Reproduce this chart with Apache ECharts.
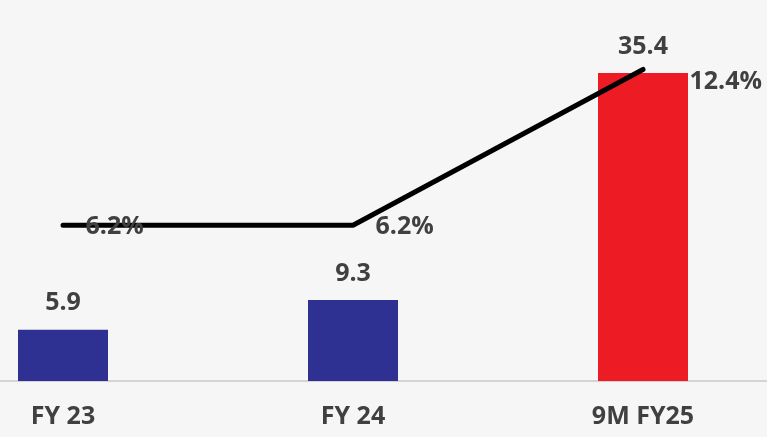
<!DOCTYPE html>
<html>
<head>
<meta charset="utf-8">
<script src="https://cdn.jsdelivr.net/npm/echarts@6/dist/echarts.min.js"></script>
<style>
  html, body { margin: 0; padding: 0; background: #f6f6f6; }
  #chart { width: 767px; height: 437px; }
</style>
</head>
<body>
<div id="chart"></div>
<script>
// Periods shown on the category axis
const categories = ['FY 23', 'FY 24', '9M FY25'];
// Bar values (absolute figures)
const barValues = [5.9, 9.3, 35.4];
// Line values (percentages)
const lineValues = [6.2, 6.2, 12.4];

const navy = '#2E3192';
const red = '#ED1C24';
const labelFont = { fontFamily: 'Open Sans', fontWeight: 'bold', fontSize: 25, color: '#404040' };

const chart = echarts.init(document.getElementById('chart'));
chart.setOption({
  backgroundColor: '#f6f6f6',
  animation: false,
  grid: { left: -82, width: 870, top: 33, bottom: 56, containLabel: false, outerBoundsMode: 'none' },
  xAxis: {
    type: 'category',
    data: categories,
    axisLine: { lineStyle: { color: '#d4d4d4', width: 2 } },
    axisTick: { show: false },
    axisLabel: Object.assign({ margin: 23 }, labelFont)
  },
  yAxis: [
    { type: 'value', min: 0, max: 40, show: false, splitLine: { show: false } },
    { type: 'value', min: 0, max: 13.85, show: false, splitLine: { show: false } }
  ],
  series: [
    {
      type: 'bar',
      yAxisIndex: 0,
      barWidth: 90,
      data: barValues.map((v, i) => ({
        value: v,
        itemStyle: { color: i === 2 ? red : navy }
      })),
      label: Object.assign({ show: true, position: 'top', distance: 14 }, labelFont)
    },
    {
      type: 'line',
      yAxisIndex: 1,
      data: lineValues.map((v, i) => ({
        value: v,
        label: { offset: i === 2 ? [24, 12] : [0, 2] }
      })),
      // tiny invisible markers so the value labels have an anchor
      symbol: 'circle',
      symbolSize: 1,
      showSymbol: true,
      itemStyle: { color: 'rgba(0,0,0,0)' },
      lineStyle: { color: '#000000', width: 5, cap: 'round' },
      z: 5,
      label: Object.assign({
        show: true,
        position: 'right',
        distance: 22,
        formatter: p => p.value + '%'
      }, labelFont)
    }
  ]
});
</script>
</body>
</html>
